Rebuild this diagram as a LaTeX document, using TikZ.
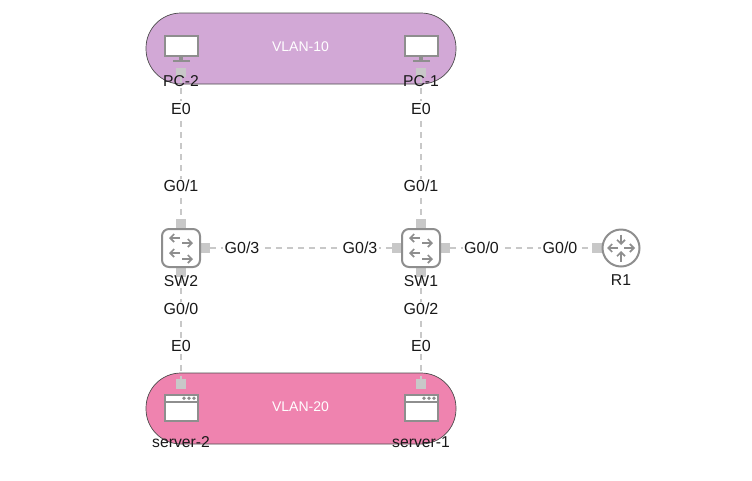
\documentclass[tikz,border=0pt]{standalone}
\usepackage{fontspec}
\setmainfont{Liberation Sans}
\usetikzlibrary{arrows.meta}
\definecolor{vlanA}{HTML}{D2A8D6}
\definecolor{vlanB}{HTML}{EF83AF}
\definecolor{iconc}{HTML}{8E8E8E}
\definecolor{linkc}{HTML}{C8C8C8}
\tikzset{
  pillbox/.style={draw=black!70,line width=0.7pt,rounded corners=35pt,minimum width=310pt,minimum height=71pt,inner sep=0pt},
  vlantext/.style={text=white,font=\fontsize{14}{16}\selectfont},
  linklab/.style={fill=white,inner sep=1.5pt,font=\fontsize{16}{18}\selectfont,text=black!90},
  devname/.style={inner sep=0pt,font=\fontsize{15.7}{18}\selectfont,text=black!90},
  portbox/.style={fill=linkc,minimum size=9.5pt,inner sep=0pt},
  wirelink/.style={draw=linkc,line width=2.8pt,dash pattern=on 6pt off 5pt},
  iconbox/.style={draw=iconc,line width=2pt,fill=white,inner sep=0pt},
  swbox/.style={draw=iconc,line width=2pt,fill=white,rounded corners=7pt,minimum width=38pt,minimum height=38pt,inner sep=0pt},
  rtbox/.style={draw=iconc,line width=2pt,fill=white,circle,minimum size=37pt,inner sep=0pt},
  glyph/.style={draw=iconc,line width=1.7pt,-{Straight Barb[length=4pt,width=8pt,line width=1.7pt]}}
}
\newcommand{\pcicon}[3]{%
  \node[iconbox,minimum width=33pt,minimum height=20pt] (#1) at (#2,#3) {};
  \fill[iconc] (#2-2,#3+10) rectangle (#2+2,#3+14);
  \fill[iconc] (#2-8.5,#3+14) rectangle (#2+8.5,#3+16);
}
\newcommand{\srvicon}[3]{%
  \node[iconbox,minimum width=33pt,minimum height=26pt] (#1) at (#2,#3) {};
  \draw[iconc,line width=2pt] (#2-17,#3-6.5) -- (#2+17,#3-6.5);
  \foreach \d in {3,8,13}{\fill[iconc] (#2+\d,#3-9.7) circle (1.9pt);}
}
\newcommand{\swglyph}[2]{%
  \draw[glyph] (#1-1,#2-10) -- (#1-12,#2-10);
  \draw[glyph] (#1+1,#2-5) -- (#1+12,#2-5);
  \draw[glyph] (#1-1,#2+5) -- (#1-12,#2+5);
  \draw[glyph] (#1+1,#2+11) -- (#1+12,#2+11);
}
\begin{document}
\begin{tikzpicture}[x=1pt,y=-1pt]
\useasboundingbox (0,0) rectangle (752,480);
\node[pillbox,fill=vlanA] (v10) at (301,48.5) {};
\node[pillbox,fill=vlanB] (v20) at (301,408.5) {};
\node[vlantext] (t10) at (300.5,47) {VLAN-10};
\node[vlantext] (t20) at (300.5,407) {VLAN-20};
\node[portbox] (p2p) at (181,72.5) {};
\node[portbox] (p1p) at (421,72.5) {};
\node[portbox] (s2p) at (181,384) {};
\node[portbox] (s1p) at (421,384) {};
\node[portbox] (w2t) at (181,224) {};
\node[portbox] (w2b) at (181,272) {};
\node[portbox] (w2r) at (205,248) {};
\node[portbox] (w1t) at (421,224) {};
\node[portbox] (w1b) at (421,272) {};
\node[portbox] (w1l) at (397,248) {};
\node[portbox] (w1r) at (445,248) {};
\node[portbox] (r1l) at (597,248) {};
\draw[wirelink] (p2p) -- (w2t);
\draw[wirelink] (p1p) -- (w1t);
\draw[wirelink] (w2r) -- (w1l);
\draw[wirelink] (w1r) -- (r1l);
\draw[wirelink] (w2b) -- (s2p);
\draw[wirelink] (w1b) -- (s1p);
\pcicon{pc2}{181}{46}
\pcicon{pc1}{421}{46}
\srvicon{srv2}{181}{408}
\srvicon{srv1}{421}{408}
\node[swbox] (sw2) at (181,248) {};
\node[swbox] (sw1) at (421,248) {};
\swglyph{181}{248}
\swglyph{421}{248}
\node[rtbox] (r1) at (621,248) {};
\draw[glyph] (621,234.5) -- (621,245);
\draw[glyph] (621,261.5) -- (621,251);
\draw[glyph] (618,248) -- (607,248);
\draw[glyph] (624,248) -- (635,248);
\node[linklab] (a1) at (181,108.5) {E0};
\node[linklab] (a2) at (421,108.5) {E0};
\node[linklab] (a3) at (181,186) {G0/1};
\node[linklab] (a4) at (421,186) {G0/1};
\node[linklab] (a5) at (242,248) {G0/3};
\node[linklab] (a6) at (360,248) {G0/3};
\node[linklab] (a7) at (481.5,248) {G0/0};
\node[linklab] (a8) at (560,248) {G0/0};
\node[linklab] (a9) at (181,309) {G0/0};
\node[linklab] (a10) at (421,309) {G0/2};
\node[linklab] (a11) at (181,346) {E0};
\node[linklab] (a12) at (421,346) {E0};
\node[devname] (n1) at (181,81) {PC-2};
\node[devname] (n2) at (421,81) {PC-1};
\node[devname] (n3) at (181,281) {SW2};
\node[devname] (n4) at (421,281) {SW1};
\node[devname] (n5) at (621,280) {R1};
\node[devname] (n6) at (181,442) {server-2};
\node[devname] (n7) at (421,442) {server-1};
\end{tikzpicture}
\end{document}
